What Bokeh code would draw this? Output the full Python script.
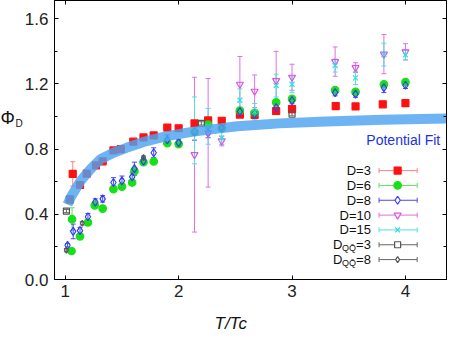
from bokeh.plotting import figure
from bokeh.models import (Range1d, FixedTicker, LinearAxis, Whisker, TeeHead,
                          ColumnDataSource, Label)
from bokeh.embed import file_html
from bokeh.resources import INLINE

FONT = "Liberation Sans"

# ---------------- data ----------------
x_ticks = [1, 2, 3, 4]
x_tick_labels = ["1", "2", "3", "4"]
y_ticks = [0.0, 0.4, 0.8, 1.2, 1.6]
y_tick_labels = ["0.0", "0.4", "0.8", "1.2", "1.6"]
y_minor_ticks = [0.2, 0.6, 1.0, 1.4]

d3_x = [1.04, 1.066, 1.13, 1.19, 1.27, 1.33, 1.425, 1.49, 1.60, 1.69, 1.78, 1.90, 2.00,
        2.14, 2.26, 2.38, 2.54, 2.67, 2.86, 3.00, 3.385, 3.56, 3.80, 4.00]
d3_y = [0.49, 0.648, 0.58, 0.65, 0.70, 0.725, 0.792, 0.80, 0.846, 0.872, 0.884, 0.932, 0.928,
        0.958, 0.976, 0.974, 1.012, 1.01, 1.034, 1.046, 1.064, 1.062, 1.075, 1.082]
d3_e = [0.01, 0.075, 0.01, 0.01, 0.01, 0.01, 0.01, 0.01, 0.01, 0.01, 0.01, 0.01, 0.01,
        0.01, 0.01, 0.01, 0.01, 0.01, 0.01, 0.01, 0.01, 0.01, 0.01, 0.01]

d6_x = [1.055, 1.06, 1.13, 1.20, 1.26, 1.33, 1.425, 1.50, 1.59, 1.61, 1.69, 1.78, 1.90, 2.00,
        2.14, 2.26, 2.38, 2.54, 2.67, 2.86, 3.00, 3.38, 3.56, 3.81, 4.00]
d6_y = [0.175, 0.37, 0.265, 0.35, 0.455, 0.435, 0.555, 0.57, 0.595, 0.665, 0.72, 0.724, 0.836, 0.831,
        0.905, 0.95, 0.929, 1.036, 1.023, 1.087, 1.108, 1.162, 1.151, 1.198, 1.211]
d6_e = [0.01, 0.07, 0.01, 0.01, 0.01, 0.01, 0.01, 0.01, 0.01, 0.02, 0.01, 0.01, 0.01, 0.01,
        0.02, 0.02, 0.01, 0.01, 0.01, 0.01, 0.01, 0.01, 0.01, 0.01, 0.01]

d8_x = [1.02, 1.07, 1.13, 1.20, 1.265, 1.33, 1.425, 1.50, 1.59, 1.61, 1.69, 1.78, 1.90, 2.00,
        2.14, 2.26, 2.38, 2.54, 2.67, 2.86, 3.00, 3.38, 3.56, 3.81, 4.00]
d8_y = [0.21, 0.295, 0.30, 0.385, 0.475, 0.495, 0.595, 0.605, 0.63, 0.68, 0.726, 0.778, 0.857, 0.84,
        0.905, 0.90, 0.93, 1.03, 1.015, 1.055, 1.098, 1.147, 1.138, 1.177, 1.192]
d8_e = [0.01, 0.045, 0.02, 0.02, 0.02, 0.02, 0.03, 0.03, 0.025, 0.04, 0.02, 0.03, 0.03, 0.02,
        0.05, 0.03, 0.02, 0.01, 0.01, 0.02, 0.02, 0.02, 0.02, 0.03, 0.02]

d10_x = [2.14, 2.26, 2.38, 2.54, 2.67, 2.86, 3.00, 3.38, 3.56, 3.81, 4.00]
d10_y = [0.766, 0.90, 0.85, 1.198, 1.155, 1.22, 1.241, 1.337, 1.30, 1.383, 1.397]
d10_e = [0.475, 0.333, 0.03, 0.17, 0.10, 0.18, 0.08, 0.09, 0.03, 0.12, 0.05]

d15_x = [2.14, 2.26, 2.38, 2.54, 2.67, 2.86, 3.00, 3.38, 3.56, 3.81, 4.00]
d15_y = [0.915, 0.94, 0.868, 1.10, 1.03, 1.19, 1.198, 1.313, 1.237, 1.38, 1.378]
d15_e = [0.205, 0.11, 0.04, 0.07, 0.05, 0.07, 0.05, 0.04, 0.04, 0.07, 0.03]

qq3_x = [1.01, 1.04, 2.20, 3.00]
qq3_y = [0.42, 0.495, 0.958, 1.014]
qq3_e = [0.01, 0.01, 0.01, 0.01]

qq8_x = [1.01, 1.15, 1.69]
qq8_y = [0.18, 0.345, 0.748]
qq8_e = [0.01, 0.01, 0.01]

fit_x = [1.02, 1.052, 1.138, 1.224, 1.31, 1.425, 1.54, 1.71, 1.885, 2.115, 2.345, 2.517,
         2.89, 3.3, 3.8, 4.43]
fit_y = [0.46, 0.509, 0.608, 0.678, 0.738, 0.778, 0.808, 0.848, 0.878, 0.906, 0.926, 0.94,
         0.958, 0.97, 0.98, 0.988]
fit_label = "Potential Fit"

legend_labels = ["D=3", "D=6", "D=8", "D=10", "D=15"]
qq_labels = ["=3", "=8"]

# ---------------- layout helpers ----------------
PAGE_MARGIN = 8
CANVAS_W, CANVAS_H = 456, 332
BORDER_L, BORDER_R, BORDER_T, BORDER_B = 45, 10, 0, 53


def px2x(px):  # reference page pixel -> data x
    return 1 + (px - 64) / 116.0


def px2y(py):  # reference page pixel -> data y
    return (293.3 - py) / 167.0


X0 = px2x(PAGE_MARGIN + BORDER_L)
X1 = px2x(PAGE_MARGIN + CANVAS_W - BORDER_R)
Y0, Y1 = 0.0, 1.712

p = figure(width=CANVAS_W, height=CANVAS_H, x_range=Range1d(X0, X1), y_range=Range1d(Y0, Y1),
           output_backend="svg", toolbar_location=None,
           min_border_left=BORDER_L, min_border_right=BORDER_R,
           min_border_top=BORDER_T, min_border_bottom=BORDER_B)
p.grid.visible = False
p.outline_line_color = "black"
p.outline_line_width = 1
p.background_fill_color = "white"
p.border_fill_color = "white"

for ax in (p.xaxis[0], p.yaxis[0]):
    ax.axis_line_color = "black"
    ax.major_tick_line_color = "black"
    ax.minor_tick_line_color = "black"
    ax.major_tick_in = 4
    ax.major_tick_out = 0
    ax.minor_tick_in = 3
    ax.minor_tick_out = 0
    ax.major_label_text_font = FONT
    ax.major_label_text_font_size = "17px"
    ax.major_label_text_color = "#222222"

p.xaxis.ticker = FixedTicker(ticks=x_ticks, minor_ticks=[])
p.xaxis.major_label_overrides = {t: l for t, l in zip(x_ticks, x_tick_labels)}
p.xaxis.major_label_standoff = 5
p.yaxis.ticker = FixedTicker(ticks=y_ticks, minor_ticks=y_minor_ticks)
p.yaxis.major_label_overrides = {t: l for t, l in zip(y_ticks, y_tick_labels)}
p.yaxis.major_label_standoff = 6

top = LinearAxis(ticker=FixedTicker(ticks=x_ticks, minor_ticks=[]),
                 major_label_overrides={t: "" for t in x_ticks},
                 major_label_text_font_size="1px", major_label_standoff=0,
                 major_tick_in=4, major_tick_out=0, minor_tick_in=0, minor_tick_out=0,
                 axis_line_color="black")
p.add_layout(top, "above")
right = LinearAxis(ticker=FixedTicker(ticks=y_ticks, minor_ticks=y_minor_ticks),
                   major_label_overrides={t: "" for t in y_ticks},
                   major_label_text_font_size="1px", major_label_standoff=0,
                   major_tick_in=4, major_tick_out=0, minor_tick_in=3, minor_tick_out=0,
                   axis_line_color="black")
p.add_layout(right, "right")

series = [
    (d3_x, d3_y, d3_e, "square", "#ff1010", "#ff1010", "#ff8080", 7),
    (d6_x, d6_y, d6_e, "circle", "#18e018", "#18e018", "#60e060", 7.5),
    (d8_x, d8_y, d8_e, "diamond", "#3a3aff", None, "#4a4af0", 8),
    (d10_x, d10_y, d10_e, "inverted_triangle", "#e050e0", None, "#e070e0", 7),
    (d15_x, d15_y, d15_e, "x", "#30e0e0", None, "#50e0e0", 7),
    (qq3_x, qq3_y, qq3_e, "square", "#555555", None, "#666666", 6),
    (qq8_x, qq8_y, qq8_e, "diamond", "#555555", None, "#666666", 6),
]

for xs, ys, es, marker, lc, fc, ec, sz in series:
    src = ColumnDataSource(dict(x=xs, y=ys,
                                upper=[y + e for y, e in zip(ys, es)],
                                lower=[y - e for y, e in zip(ys, es)]))
    w = Whisker(source=src, base="x", upper="upper", lower="lower", dimension="height",
                line_color=ec, line_width=1,
                upper_head=TeeHead(size=5, line_color=ec, line_width=1),
                lower_head=TeeHead(size=5, line_color=ec, line_width=1),
                level="underlay")
    p.add_layout(w)
    p.scatter("x", "y", source=src, marker=marker, size=sz, line_color=lc,
              fill_color=fc if fc else None, line_width=1.2)

# potential fit band (translucent, on top)
p.line(fit_x, fit_y, line_color="#4ea4ef", line_width=10, line_alpha=0.82, line_cap="butt")
p.add_layout(Label(x=px2x(372), y=px2y(150.7), text=fit_label, text_font=FONT,
                   text_font_size="14px", text_color="#2233dd", text_baseline="alphabetic"))

# ---------------- legend ----------------
rows = [181.7, 196.9, 212.1, 227.3, 242.5, 257.7, 272.9]
lx_text = px2x(376.7)
lx_bar0, lx_bar1, lx_mark = px2x(385), px2x(424), px2x(404)
for i, (xs, ys, es, marker, lc, fc, ec, sz) in enumerate(series):
    ry = px2y(rows[i])
    p.segment(x0=[lx_bar0], y0=[ry], x1=[lx_bar1], y1=[ry], line_color=ec, line_width=1)
    p.scatter(x=[lx_bar0, lx_bar1], y=[ry, ry], marker="dash", angle=1.5708, size=5,
              line_color=ec, line_width=1)
    p.scatter(x=[lx_mark], y=[ry], marker=marker, size=sz, line_color=lc,
              fill_color=fc if fc else "white", line_width=1.2)
    if i < 5:
        p.add_layout(Label(x=lx_text, y=ry, text=legend_labels[i], text_font=FONT,
                           text_font_size="13px", text_align="right", text_baseline="middle",
                           text_color="#111111"))
    else:
        p.add_layout(Label(x=lx_text, y=ry, text=qq_labels[i - 5], text_font=FONT,
                           text_font_size="13px", text_align="right", text_baseline="middle",
                           text_color="#111111"))
        p.add_layout(Label(x=px2x(361.5), y=px2y(rows[i] + 3.5), text="QQ\u0304", text_font=FONT,
                           text_font_size="9px", text_align="right", text_baseline="middle",
                           text_color="#111111"))
        p.add_layout(Label(x=px2x(347.5), y=ry, text="D", text_font=FONT,
                           text_font_size="13px", text_align="right", text_baseline="middle",
                           text_color="#111111"))

# ---------------- axis titles (canvas units, hosted in side panels) ----------------
titles = [
    (8, 125, "\u03a6", "18px", "normal", "left"),
    (23, 130.5, "D", "10px", "normal", "left"),
    (222, 331, "T/Tc", "17px", "italic", "below"),
]
for px, py, text, size, style, side in titles:
    p.add_layout(Label(x=px - PAGE_MARGIN, y=py - PAGE_MARGIN, x_units="canvas",
                       y_units="canvas", text=text, text_font=FONT, text_font_size=size,
                       text_font_style=style, text_baseline="alphabetic",
                       text_color="#111111"), side)

open("out.html", "w").write(file_html(p, INLINE))
